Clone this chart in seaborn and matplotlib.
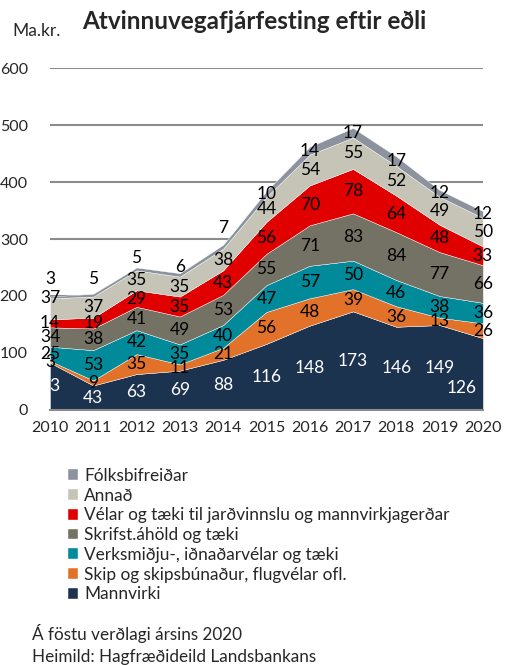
import numpy as np
import seaborn as sns
import matplotlib.pyplot as plt

years = [2010, 2011, 2012, 2013, 2014, 2015, 2016, 2017, 2018, 2019, 2020]

# series from bottom to top
mannvirki = [83, 43, 63, 69, 88, 116, 148, 173, 146, 149, 126]
skip = [3, 9, 35, 11, 21, 56, 48, 39, 36, 13, 26]
verksmidju = [25, 53, 42, 35, 40, 47, 57, 50, 46, 38, 36]
skrifst = [34, 38, 41, 49, 53, 55, 71, 83, 84, 77, 66]
velar = [14, 19, 29, 35, 43, 56, 70, 78, 64, 48, 33]
annad = [37, 37, 35, 35, 38, 44, 54, 55, 52, 49, 50]
folksbif = [3, 5, 5, 6, 7, 10, 14, 17, 17, 12, 12]

names = [
    "Mannvirki",
    "Skip og skipsbúnaður, flugvélar ofl.",
    "Verksmiðju-, iðnaðarvélar og tæki",
    "Skrifst.áhöld og tæki",
    "Vélar og tæki til jarðvinnslu og mannvirkjagerðar",
    "Annað",
    "Fólksbifreiðar",
]
series = [mannvirki, skip, verksmidju, skrifst, velar, annad, folksbif]
colors = ["#1C3350", "#E2722A", "#008A9A", "#747264", "#E00000", "#C6C4B6", "#8C939E"]
label_colors = ["white", "black", "black", "black", "black", "black", "black"]

sns.set_style("white")
plt.rcParams["font.family"] = ["Lato", "DejaVu Sans"]

fig = plt.figure(figsize=(5.17, 6.65), dpi=100)
ax = fig.add_axes([0.0967, 0.3835, 0.8373, 0.5142])

polys = ax.stackplot(years, *series, colors=colors, edgecolor="white", linewidth=0.3)

ax.set_xlim(2010, 2020)
ax.set_ylim(0, 600)
ax.set_yticks(range(0, 601, 100))
ax.set_xticks(years)
ax.set_xticklabels([str(y) for y in years], fontsize=11.5)
ax.tick_params(axis="y", labelsize=11.5, length=0, pad=16)
ax.tick_params(axis="x", length=0, pad=8)
ax.grid(axis="y", color="#8C8C8C", linewidth=1.5)
ax.set_axisbelow(True)
for s in ["top", "right", "left"]:
    ax.spines[s].set_visible(False)
ax.spines["bottom"].set_color("#8C8C8C")
ax.spines["bottom"].set_linewidth(1.5)

# small nudges (pixels) for a few labels that sit off their band centre
nudge = {(6, 0): (0, 18), (6, 1): (0, 16), (6, 2): (0, 11), (6, 3): (0, 8),
         (6, 4): (0, 19), (5, 0): (0, 11), (0, 10): (-21, -14)}

cum = np.zeros(len(years))
for i, vals in enumerate(series):
    vals = np.array(vals)
    mids = cum + vals / 2
    for j, (x, v, m) in enumerate(zip(years, vals, mids)):
        dx, dy = nudge.get((i, j), (0, 0))
        ax.annotate(str(v), (x, m), xytext=(dx * 0.72, dy * 0.72), textcoords="offset points",
                    ha="center", va="center", fontsize=12.5,
                    color=label_colors[i], annotation_clip=False)
    cum = cum + vals

handles = polys[::-1]
fig.legend(handles, names[::-1], loc="upper left", bbox_to_anchor=(0.118, 0.307),
           frameon=False, fontsize=12.4, handlelength=0.6, handleheight=0.6,
           handletextpad=0.35, labelspacing=0.22, borderaxespad=0)

fig.text(0.159, 0.967, "Atvinnuvegafjárfesting eftir eðli", fontsize=17.5,
         fontweight="bold", va="center", ha="left")
fig.text(0.023, 0.953, "Ma.kr.", fontsize=12.5, va="center", ha="left")
fig.text(0.062, 0.047, "Á föstu verðlagi ársins 2020", fontsize=12.3, va="center")
fig.text(0.062, 0.012, "Heimild: Hagfræðideild Landsbankans", fontsize=12.3, va="center")

fig.savefig("out.png", dpi=100)
